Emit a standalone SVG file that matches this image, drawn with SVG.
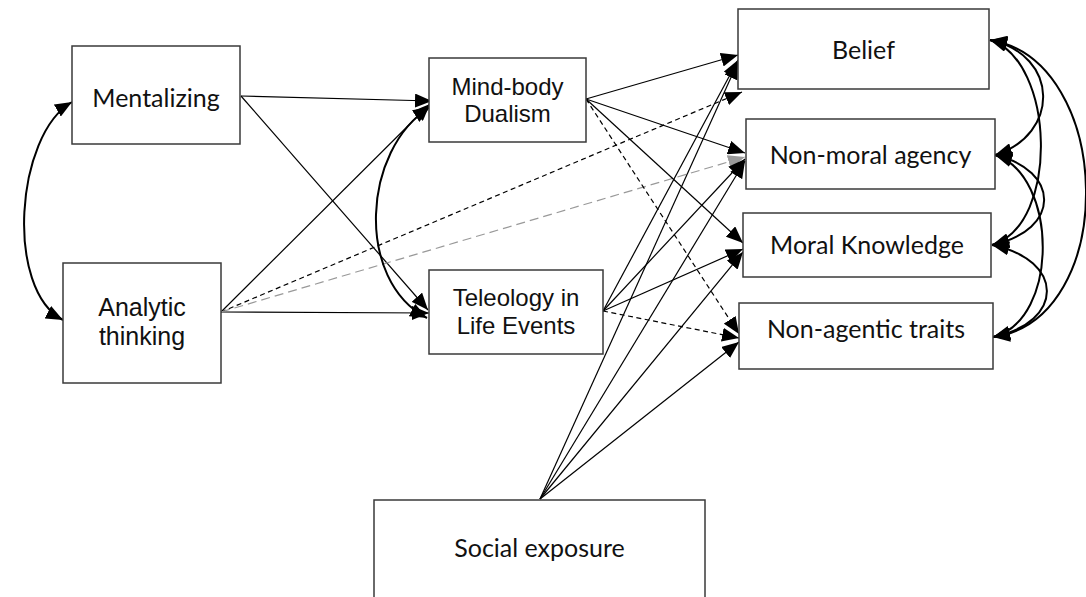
<svg xmlns="http://www.w3.org/2000/svg" width="1086" height="597" viewBox="0 0 1086 597">
<style>
  .box { fill: #ffffff; stroke: #3a3a3a; stroke-width: 1.5; }
  .cal { font-family: Lato, "Open Sans", sans-serif; font-size: 25px; fill: #111; text-anchor: middle; }
  .ari { font-family: "Liberation Sans", Arial, sans-serif; font-size: 24px; fill: #111; text-anchor: middle; }
  .ln { fill: none; stroke: #000; stroke-width: 1.2; marker-end: url(#ah); }
  .dsh { stroke-dasharray: 5 3.5; }
  .gry { fill: none; stroke: #999; stroke-width: 1.2; stroke-dasharray: 9 5; marker-end: url(#ahg); }
  .cv { fill: none; stroke: #000; stroke-width: 2; marker-start: url(#ah); marker-end: url(#ah); }
</style>
<defs>
  <marker id="ah" markerUnits="userSpaceOnUse" markerWidth="18" markerHeight="14" refX="17" refY="7" orient="auto-start-reverse">
    <path d="M0,0 L17,7 L0,14 z" fill="#000"/>
  </marker>
  <marker id="ahg" markerUnits="userSpaceOnUse" markerWidth="18" markerHeight="14" refX="17" refY="7" orient="auto">
    <path d="M0,0 L17,7 L0,14 z" fill="#999"/>
  </marker>
</defs>

<g id="connectors">
  <path class="ln" d="M241,96 L432,101"/>
  <path class="ln" d="M241,96 L428,310"/>
  <path class="ln" d="M221,312 L430,104"/>
  <path class="ln" d="M221,312 L429,313"/>
  <path class="ln dsh" d="M221,312 L742,92"/>
  <path class="gry" d="M221,312 L745,157"/>
  <path class="ln" d="M586,99 L738,55"/>
  <path class="ln" d="M586,99 L745,153"/>
  <path class="ln" d="M586,99 L743,243"/>
  <path class="ln dsh" d="M586,99 L739,334"/>
  <path class="ln" d="M603,311 L738,60"/>
  <path class="ln" d="M603,311 L745,159"/>
  <path class="ln" d="M603,311 L743,249"/>
  <path class="ln dsh" d="M603,311 L739,338"/>
  <path class="ln" d="M540,499 L738,62"/>
  <path class="ln" d="M540,499 L745,161"/>
  <path class="ln" d="M540,499 L743,252"/>
  <path class="ln" d="M540,499 L739,342"/>
  <path class="cv" d="M72,102 C15,135 5,290 63,320"/>
  <path class="cv" d="M430,107 C362,150 355,280 427,318"/>
  <path class="cv" d="M990,40 C1060,55 1060,135 995,155"/>
  <path class="cv" d="M990,40 C1055,60 1060,225 992,245"/>
  <path class="cv" d="M990,40 C1115,60 1120,320 993,337"/>
  <path class="cv" d="M995,155 C1060,170 1062,230 992,245"/>
  <path class="cv" d="M995,155 C1058,175 1060,320 993,337"/>
  <path class="cv" d="M992,245 C1065,260 1065,322 993,337"/>
</g>

<g id="mentalizing">
  <rect class="box" x="72" y="46" width="168" height="98"/>
  <text class="cal" x="156" y="107">Mentalizing</text>
</g>
<g id="analytic">
  <rect class="box" x="63" y="263" width="158" height="120"/>
  <text class="ari" style="font-size:25px" x="142" y="316">Analytic</text>
  <text class="ari" style="font-size:25px" x="142" y="345">thinking</text>
</g>
<g id="mindbody">
  <rect class="box" x="429" y="58" width="157" height="84"/>
  <text class="ari" x="507.5" y="95">Mind-body</text>
  <text class="ari" x="507.5" y="122">Dualism</text>
</g>
<g id="teleology">
  <rect class="box" x="429" y="270" width="174" height="84"/>
  <text class="ari" x="516" y="306">Teleology in</text>
  <text class="ari" x="516" y="334">Life Events</text>
</g>
<g id="social">
  <rect class="box" x="374" y="500" width="331" height="120"/>
  <text class="cal" x="539.5" y="557">Social exposure</text>
</g>
<g id="belief">
  <rect class="box" x="738" y="9" width="251" height="80"/>
  <text class="cal" x="863.5" y="59">Belief</text>
</g>
<g id="nonmoral">
  <rect class="box" x="746" y="119" width="249" height="70"/>
  <text class="cal" x="870.5" y="164">Non-moral agency</text>
</g>
<g id="moral">
  <rect class="box" x="743" y="213" width="248" height="64"/>
  <text class="cal" x="867" y="254">Moral Knowledge</text>
</g>
<g id="nonagentic">
  <rect class="box" x="739" y="303" width="254" height="66"/>
  <text class="cal" x="866" y="338">Non-agentic traits</text>
</g>
</svg>
